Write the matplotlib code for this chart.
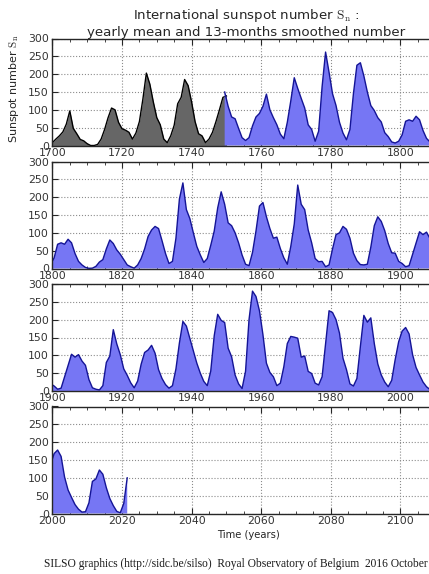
import numpy as np
import matplotlib
matplotlib.use("Agg")
import matplotlib.pyplot as plt
from matplotlib.ticker import MultipleLocator


# =========================
# DATA
# =========================
# yearly mean, 1700-1750 (grey part)
YEARLY_YEARS = list(range(1700, 1751))
YEARLY_SN = [
    8, 18, 27, 38, 60, 97, 48, 33, 17, 13,
    5, 0, 0, 3, 18, 45, 78, 105, 100, 65,
    47, 43, 37, 18, 35, 67, 130, 203, 172, 122,
    78, 58, 18, 8, 27, 57, 117, 135, 185, 168,
    122, 67, 33, 27, 8, 18, 37, 67, 100, 135,
    139,
]

# 13-month smoothed number, one value per year (mid year), 1749-2021 (blue part)
SMOOTHED_START = 1749.5
SMOOTHED_SN = [
    150,
    110, 80, 75, 48, 22, 14, 22, 55, 80, 90,          # 1750
    110, 144, 100, 78, 58, 32, 19, 65, 125, 190,      # 1760
    160, 132, 105, 58, 45, 12, 40, 165, 262, 205,     # 1770
    145, 112, 65, 35, 16, 45, 145, 225, 232, 195,     # 1780
    150, 112, 98, 78, 66, 36, 25, 10, 7, 12,          # 1790
    30, 68, 72, 68, 82, 72, 42, 20, 10, 3,            # 1800
    0.5, 1, 6, 18, 25, 55, 80, 70, 52, 40,            # 1810
    25, 10, 5, 1, 10, 28, 55, 90, 108, 118,           # 1820
    112, 78, 42, 14, 20, 85, 195, 240, 165, 140,      # 1830
    100, 62, 38, 17, 28, 65, 105, 170, 215, 180,      # 1840
    128, 120, 100, 72, 38, 12, 8, 45, 105, 175,       # 1850
    185, 145, 112, 85, 88, 56, 30, 12, 62, 125,       # 1860
    234, 180, 165, 108, 72, 28, 19, 20, 5, 10,        # 1870
    55, 95, 100, 118, 110, 85, 43, 22, 11, 10,        # 1880
    12, 60, 120, 145, 132, 106, 70, 44, 43, 20,       # 1890
    14, 5, 8, 40, 72, 103, 95, 102, 84, 72,           # 1900
    32, 9, 5, 3, 15, 80, 98, 172, 132, 102,           # 1910
    62, 44, 23, 9, 28, 75, 108, 115, 128, 106,        # 1920
    60, 35, 18, 8, 15, 62, 135, 195, 182, 147,        # 1930
    112, 78, 50, 27, 15, 56, 155, 215, 198, 192,      # 1940
    120, 96, 45, 20, 7, 55, 200, 280, 265, 225,       # 1950
    158, 78, 52, 40, 15, 22, 68, 133, 153, 151,       # 1960
    148, 95, 98, 55, 49, 22, 17, 40, 133, 225,        # 1970
    220, 200, 162, 92, 60, 20, 14, 35, 125, 212,      # 1980
    193, 205, 133, 76, 45, 25, 12, 30, 88, 138,       # 1990
    168, 178, 160, 102, 66, 45, 25, 12, 4, 5,         # 2000
    30, 90, 97, 122, 110, 72, 42, 22, 6, 2,           # 2010
    28, 100,                                          # 2020
]

PANEL_STARTS = [1700, 1800, 1900, 2000]
PANEL_SPAN = 110

TITLE_1 = "International sunspot number $\\mathrm{S_n}$ :"
TITLE_2 = "yearly mean and 13-months smoothed number"
Y_LABEL = "Sunspot number $\\mathrm{S_n}$"
X_LABEL = "Time (years)"
FOOTER = "SILSO graphics (http://sidc.be/silso)  Royal Observatory of Belgium  2016 October"


# =========================
# FIGURE
# =========================
W, H = 429, 574
fig = plt.figure(figsize=(W / 100, H / 100), dpi=100)

yearly_x = np.array(YEARLY_YEARS, dtype=float)
yearly_y = np.array(YEARLY_SN, dtype=float)
smooth_y = np.array(SMOOTHED_SN, dtype=float)
smooth_x = SMOOTHED_START + np.arange(len(smooth_y))

left = 52.4 / W
width = (435.2 - 52.4) / W
height = 107.0 / H
bottoms = [1 - 145.5 / H, 1 - 268.5 / H, 1 - 391.0 / H, 1 - 513.5 / H]

for start, bottom in zip(PANEL_STARTS, bottoms):
    ax = fig.add_axes([left, bottom, width, height])

    ax.fill_between(yearly_x, 0, yearly_y, color="#666666", lw=0, zorder=2)
    ax.plot(yearly_x, yearly_y, color="black", lw=1.0, zorder=3)

    ax.fill_between(smooth_x, 0, smooth_y, color="#7676f4", lw=0, zorder=4)
    ax.plot(smooth_x, smooth_y, color="#141496", lw=1.0, zorder=5)

    ax.set_xlim(start, start + PANEL_SPAN)
    ax.set_ylim(0, 300)
    ax.xaxis.set_major_locator(MultipleLocator(20))
    ax.xaxis.set_minor_locator(MultipleLocator(5))
    ax.yaxis.set_major_locator(MultipleLocator(50))

    ax.grid(True, which="major", color="0.55", linestyle=":", lw=0.8, zorder=1)
    ax.set_axisbelow(True)

    ax.tick_params(which="both", direction="in", top=True, right=True,
                   colors="0.15", labelcolor="0.2", labelsize=7.8)
    ax.tick_params(which="major", length=4, width=0.8)
    ax.tick_params(which="minor", length=2, width=0.6)
    ax.tick_params(axis="x", pad=1.5)
    ax.tick_params(axis="y", pad=2.5)

    for sp in ax.spines.values():
        sp.set_color("0.15")
        sp.set_linewidth(1.0)
        sp.set_zorder(6)

fig.text(246 / W, 1 - 15 / H, TITLE_1, ha="center", va="center",
         fontsize=9.6, color="0.15", math_fontfamily="cm")
fig.text(246 / W, 1 - 32.5 / H, TITLE_2, ha="center", va="center",
         fontsize=9.6, color="0.15")
fig.text(14 / W, 1 - 89 / H, Y_LABEL, ha="center", va="center", rotation=90,
         fontsize=8, color="0.15", math_fontfamily="cm")
fig.text(248 / W, 1 - 535 / H, X_LABEL, ha="center", va="center",
         fontsize=7.2, color="0.15")
fig.text(428 / W, 1 - 564 / H, FOOTER, ha="right", va="center",
         fontsize=8.3, family="Liberation Serif", color="0.1")

fig.savefig("out.png", dpi=100)
